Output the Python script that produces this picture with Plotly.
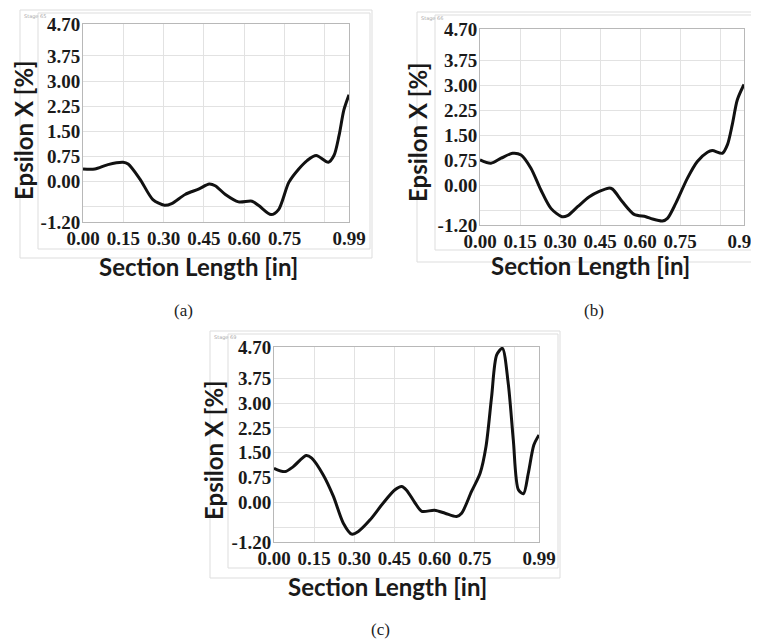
import plotly.graph_objects as go

# ---------------- data ----------------
x_a = [0.000, 0.044, 0.093, 0.149, 0.168, 0.212, 0.260, 0.303, 0.330, 0.380, 0.430, 0.470, 0.492,
       0.530, 0.579, 0.629, 0.654, 0.700, 0.728, 0.766, 0.803, 0.834, 0.868, 0.913, 0.934, 0.953,
       0.971, 0.990]
y_a = [0.38, 0.38, 0.51, 0.58, 0.53, 0.08, -0.53, -0.70, -0.65, -0.38, -0.22, -0.07, -0.12,
       -0.38, -0.60, -0.58, -0.71, -0.98, -0.83, -0.02, 0.38, 0.63, 0.78, 0.58, 0.78, 1.38,
       2.14, 2.59]

x_b = [0.000, 0.041, 0.079, 0.122, 0.154, 0.191, 0.228, 0.266, 0.307, 0.328, 0.366, 0.410, 0.447,
       0.482, 0.497, 0.534, 0.578, 0.622, 0.647, 0.684, 0.703, 0.734, 0.778, 0.815, 0.853, 0.871,
       0.909, 0.928, 0.946, 0.965, 0.990]
y_b = [0.76, 0.66, 0.81, 0.96, 0.91, 0.51, -0.14, -0.70, -0.95, -0.92, -0.65, -0.35, -0.19,
       -0.09, -0.12, -0.50, -0.88, -0.95, -1.02, -1.08, -1.00, -0.55, 0.21, 0.71, 0.99, 1.04,
       0.96, 1.22, 1.82, 2.57, 3.03]

x_c = [0.000, 0.041, 0.072, 0.120, 0.141, 0.184, 0.222, 0.259, 0.290, 0.315, 0.359, 0.408, 0.452,
       0.477, 0.496, 0.527, 0.552, 0.600, 0.639, 0.682, 0.701, 0.738, 0.770, 0.792, 0.813, 0.832,
       0.853, 0.875, 0.894, 0.913, 0.932, 0.950, 0.971, 0.990]
y_c = [1.03, 0.93, 1.08, 1.42, 1.34, 0.83, 0.18, -0.63, -0.96, -0.88, -0.53, -0.02, 0.38,
       0.48, 0.36, -0.02, -0.27, -0.24, -0.33, -0.43, -0.33, 0.33, 0.88, 1.69, 3.20, 4.46,
       4.66, 3.60, 1.89, 0.38, 0.26, 0.88, 1.74, 2.04]

x_tick_vals = [0.00, 0.15, 0.30, 0.45, 0.60, 0.75, 0.90, 0.99]
x_tick_text = ["0.00", "0.15", "0.30", "0.45", "0.60", "0.75", "", "0.99"]
y_tick_vals = [-1.20, -0.75, 0.00, 0.75, 1.50, 2.25, 3.00, 3.75, 4.70]
y_tick_text = ["-1.20", "", "0.00", "0.75", "1.50", "2.25", "3.00", "3.75", "4.70"]

x_title = "Section Length [in]"
y_title = "Epsilon X [%]"
captions = ["(a)", "(b)", "(c)"]
stage_labels = ["Stage 65", "Stage 66", "Stage 69"]

W, H = 759, 640
OX, OY = 8, 8   # page offset of the figure (default body margin)

# layout positions in page pixels (from the reference)
panels = [
    dict(x=x_a, y=y_a, box=(83, 349, 24, 222), ytitle=(23, 130), xtitle=(198, 266), cap=(183, 310),
         frames=[(38, 13, 370, 249), (20, 10, 372, 258)], stage=(22, 11)),
    dict(x=x_b, y=y_b, box=(480, 744, 29, 225), ytitle=(418, 132), xtitle=(590, 265), cap=(594, 310),
         frames=[(435, 15, 762, 250), (417, 12, 762, 262)], stage=(419, 13)),
    dict(x=x_c, y=y_c, box=(274, 539, 347, 542), ytitle=(213, 450), xtitle=(387, 586), cap=(380, 629),
         frames=[(228, 334, 558, 568), (210, 331, 560, 578)], stage=(212, 332)),
]


def px(v):
    return (v - OX) / W


def py(v):
    return 1 - (v - OY) / H


fig = go.Figure()
annotations = []
shapes = []
tick_font = dict(family="Liberation Serif", size=19, color="#1a1a1a", weight="bold")

for i, p in enumerate(panels):
    n = "" if i == 0 else str(i + 1)
    l, r, t, b = p["box"]
    fig.add_trace(go.Scatter(
        x=p["x"], y=p["y"], mode="lines",
        line=dict(color="#111111", width=3, shape="spline", smoothing=0.8),
        xaxis="x" + n, yaxis="y" + n, showlegend=False, hoverinfo="skip"))
    fig.layout["xaxis" + n] = dict(
        domain=[px(l), px(r)], range=[0, 0.99], anchor="y" + n, automargin=False,
        tickmode="array", tickvals=x_tick_vals, ticktext=x_tick_text, tickfont=tick_font,
        showgrid=True, gridcolor="#e2e2e2", gridwidth=1, zeroline=False,
        showline=True, linecolor="#b8b8b8", linewidth=1, mirror=True, ticks="",
        ticklabelstandoff=-1)
    fig.layout["yaxis" + n] = dict(
        domain=[py(b), py(t)], range=[-1.2, 4.7], anchor="x" + n, automargin=False,
        tickmode="array", tickvals=y_tick_vals, ticktext=y_tick_text, tickfont=tick_font,
        showgrid=True, gridcolor="#e2e2e2", gridwidth=1, zeroline=False,
        showline=True, linecolor="#b8b8b8", linewidth=1, mirror=True, ticks="",
        ticklabelstandoff=-2)
    yx, yy = p["ytitle"]
    annotations.append(dict(x=px(yx), y=py(yy), xref="paper", yref="paper",
                            text=y_title, textangle=-90, showarrow=False,
                            font=dict(family="Lato", size=24, color="#1a1a1a", weight="bold"),
                            xanchor="center", yanchor="middle"))
    tx, ty = p["xtitle"]
    annotations.append(dict(x=px(tx), y=py(ty), xref="paper", yref="paper",
                            text=x_title, showarrow=False,
                            font=dict(family="Lato", size=24, color="#1a1a1a", weight="bold"),
                            xanchor="center", yanchor="middle"))
    cx, cy = p["cap"]
    annotations.append(dict(x=px(cx), y=py(cy), xref="paper", yref="paper",
                            text=captions[i], showarrow=False,
                            font=dict(family="Liberation Serif", size=17, color="#222222"),
                            xanchor="center", yanchor="middle"))
    sx, sy = p["stage"]
    annotations.append(dict(x=px(sx), y=py(sy), xref="paper", yref="paper",
                            text=stage_labels[i], showarrow=False,
                            font=dict(family="DejaVu Sans", size=5, color="#aaaaaa"),
                            xanchor="left", yanchor="top"))
    for (x0, y0, x1, y1) in p["frames"]:
        shapes.append(dict(type="rect", xref="paper", yref="paper",
                           x0=px(x0), x1=px(x1), y0=py(y1), y1=py(y0),
                           line=dict(color="#dddddd", width=1), layer="below"))

fig.update_layout(
    width=W, height=H, margin=dict(l=0, r=0, t=0, b=0, autoexpand=False),
    paper_bgcolor="white", plot_bgcolor="white",
    annotations=annotations, shapes=shapes, showlegend=False)

fig.write_html("out.html")
